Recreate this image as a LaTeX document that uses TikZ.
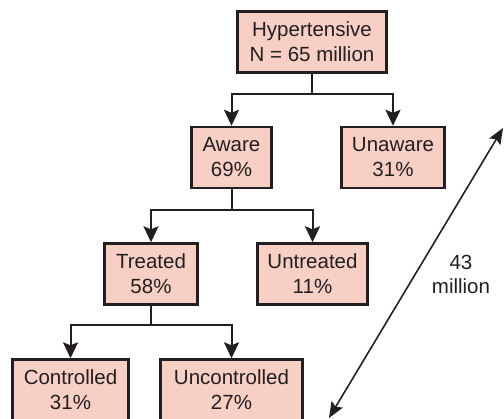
\documentclass[tikz,border=0pt]{standalone}
\usepackage{fontspec}
\setmainfont{Liberation Sans}
\usepackage{tikz}
\usetikzlibrary{arrows.meta, positioning, calc}
\definecolor{HTPink}{RGB}{247, 207, 196}
\definecolor{HTDark}{RGB}{35, 31, 32}

\begin{document}
\begin{tikzpicture}[x=1pt, y=-1pt,
    box/.style={draw=HTDark, fill=HTPink, line width=2.4pt, minimum height=61pt,
      inner sep=0pt, align=center, text=HTDark, font=\fontsize{20.5}{25}\selectfont},
    link/.style={draw=HTDark, line width=2pt,
      -{Stealth[length=16pt, width=15pt, inset=3pt]}},
    span/.style={draw=HTDark, line width=1.6pt,
      {Stealth[length=16pt, width=13pt, inset=3pt]}-{Stealth[length=16pt, width=13pt, inset=3pt]}},
    spantext/.style={align=center, text=HTDark, font=\fontsize{20.5}{24}\selectfont}
  ]
  \useasboundingbox (0,0) rectangle (504,419);
  \clip (0,0) rectangle (504,419);

  % boxes
  \node[box, minimum width=149pt] (hyp) at (312,42) {Hypertensive\\N = 65 million};
  \node[box, minimum width=80pt] (aware) at (231.5,157.5) {Aware\\69\%};
  \node[box, minimum width=103pt] (unaware) at (393,157.5) {Unaware\\31\%};
  \node[box, minimum width=93pt] (treated) at (151,274) {Treated\\58\%};
  \node[box, minimum width=110pt] (untreated) at (312.5,274) {Untreated\\11\%};
  \node[box, minimum width=116pt] (controlled) at (70.5,390) {Controlled\\31\%};
  \node[box, minimum width=142pt] (uncontrolled) at (231.5,390) {Uncontrolled\\27\%};

  % tree links
  \draw[link] (hyp.south) -- ++(0,20) -| (aware.north);
  \draw[link] (hyp.south) -- ++(0,20) -| (unaware.north);
  \draw[link] (aware.south) -- ++(0,21) -| (treated.north);
  \draw[link] (aware.south) -- ++(0,21) -| (untreated.north);
  \draw[link] (treated.south) -- ++(0,19) -| (controlled.north);
  \draw[link] (treated.south) -- ++(0,19) -| (uncontrolled.north);

  % 43 million span
  \coordinate (spanTop) at (503,128);
  \coordinate (spanBot) at (329,418);
  \draw[span] (spanBot) -- (spanTop);
  \node[spantext] (spanLabel) at (461,274) {43\\million};
\end{tikzpicture}
\end{document}
